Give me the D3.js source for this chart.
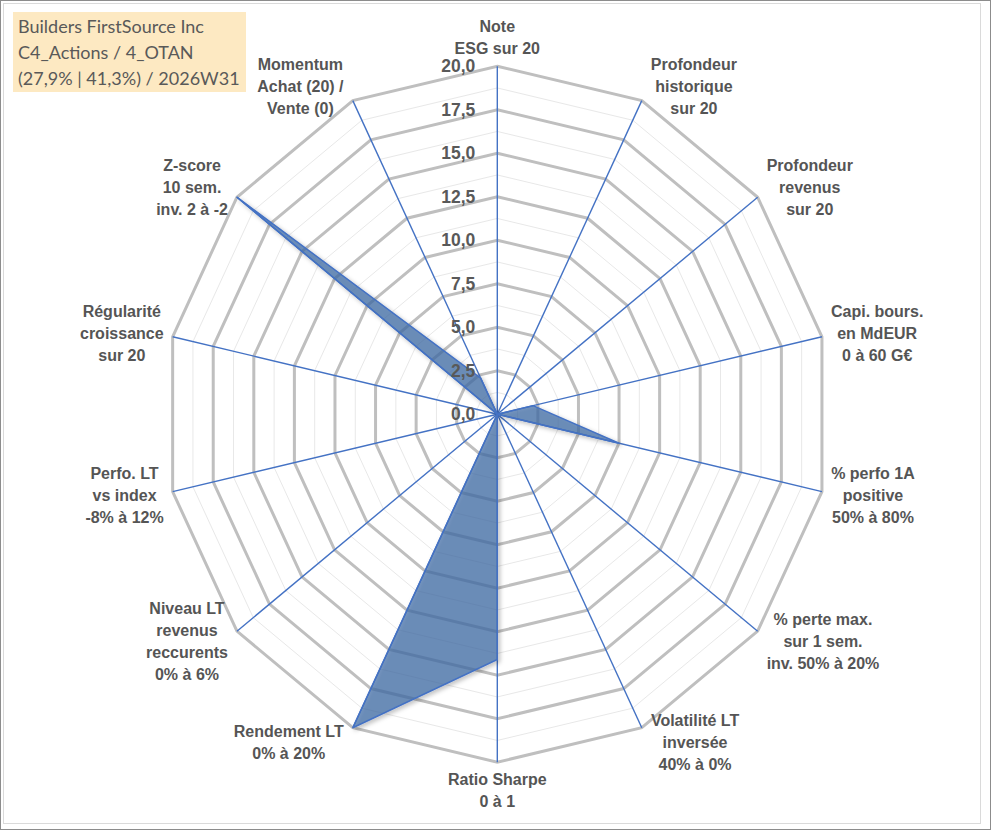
<!DOCTYPE html>
<html>
<head>
<meta charset="utf-8">
<script src="https://cdn.jsdelivr.net/npm/d3@7"></script>
<style>
  body { margin: 0; background: #fff; }
  svg { display: block; }
</style>
</head>
<body>
<svg id="chart" width="991" height="830"></svg>
<script>
// axes, clockwise from the top
const axisLabels = [
  ['Note', 'ESG sur 20'],
  ['Profondeur', 'historique', 'sur 20'],
  ['Profondeur', 'revenus', 'sur 20'],
  ['Capi. bours.', 'en MdEUR', '0 à 60 G€'],
  ['% perfo 1A', 'positive', '50% à 80%'],
  ['% perte max.', 'sur 1 sem.', 'inv. 50% à 20%'],
  ['Volatilité LT', 'inversée', '40% à 0%'],
  ['Ratio Sharpe', '0 à 1'],
  ['Rendement LT', '0% à 20%'],
  ['Niveau LT', 'revenus', 'reccurents', '0% à 6%'],
  ['Perfo. LT', 'vs index', '-8% à 12%'],
  ['Régularité', 'croissance', 'sur 20'],
  ['Z-score', '10 sem.', 'inv. 2 à -2'],
  ['Momentum', 'Achat (20) /', 'Vente (0)']
];
const scores = [0, 0, 0, 2.2, 7.5, 0, 0, 14.1, 20, 0, 0, 0, 20, 2.3];
const majorTicks = d3.range(0, 20.01, 2.5);
const minorTicks = d3.range(1.25, 20, 2.5);
const titleLines = ['Builders FirstSource Inc', 'C4_Actions / 4_OTAN', '(27,9% | 41,3%) / 2026W31'];

const svg = d3.select('#chart');
const cx = 497.3, cy = 414.2;
const n = axisLabels.length;

// the picture is slightly squeezed horizontally
const rx = d3.scaleLinear().domain([0, 20]).range([0, 333]);
const ry = d3.scaleLinear().domain([0, 20]).range([0, 348]);
const angle = d3.scaleLinear().domain([0, n]).range([0, 2 * Math.PI]);

const pt = (i, v) => [cx + rx(v) * Math.sin(angle(i)), cy - ry(v) * Math.cos(angle(i))];

const fr = d3.formatLocale({ decimal: ',', thousands: ' ', grouping: [3], currency: ['', '€'] });
const fmt = fr.format('.1f');

// frame
svg.append('rect')
  .attr('x', 0.5).attr('y', 0.5).attr('width', 990).attr('height', 829)
  .attr('fill', '#fff').attr('stroke', '#8c8c8c');
svg.append('rect')
  .attr('x', 3.5).attr('y', 3.5).attr('width', 977).attr('height', 820)
  .attr('fill', 'none').attr('stroke', '#dadada');

const defs = svg.append('defs');
defs.append('filter').attr('id', 'shadow')
  .attr('x', '-20%').attr('y', '-20%').attr('width', '140%').attr('height', '140%')
  .append('feDropShadow')
  .attr('dx', 2).attr('dy', 2).attr('stdDeviation', 2)
  .attr('flood-color', '#000').attr('flood-opacity', 0.3);

const ring = v => d3.line().curve(d3.curveLinearClosed)(d3.range(n).map(i => pt(i, v)));

const grid = svg.append('g');
grid.selectAll('path.minor')
  .data(minorTicks)
  .join('path')
  .attr('class', 'minor')
  .attr('d', ring)
  .attr('fill', 'none')
  .attr('stroke', '#e8e8e8')
  .attr('stroke-width', 1);

grid.selectAll('path.major')
  .data(majorTicks.filter(v => v > 0))
  .join('path')
  .attr('class', 'major')
  .attr('d', ring)
  .attr('fill', 'none')
  .attr('stroke', '#bfbfbf')
  .attr('stroke-width', 3)
  .attr('stroke-linejoin', 'miter');

// spokes
svg.append('g').selectAll('line')
  .data(d3.range(n))
  .join('line')
  .attr('x1', cx).attr('y1', cy)
  .attr('x2', i => pt(i, 20)[0])
  .attr('y2', i => pt(i, 20)[1])
  .attr('stroke', '#4472c4')
  .attr('stroke-width', 1.4);

// series
svg.append('path')
  .datum(scores)
  .attr('d', d3.line().curve(d3.curveLinearClosed)(scores.map((v, i) => pt(i, v))))
  .attr('fill', '#3f6ca6')
  .attr('fill-opacity', 0.7)
  .attr('stroke', '#4472c4')
  .attr('stroke-width', 1.5)
  .attr('stroke-linejoin', 'round')
  .attr('filter', 'url(#shadow)');

// tick labels along the top axis
svg.append('g').selectAll('text')
  .data(majorTicks)
  .join('text')
  .attr('x', cx - 22)
  .attr('y', v => cy - ry(v))
  .attr('dy', '0.35em')
  .attr('text-anchor', 'end')
  .attr('font-family', 'Liberation Sans, Arial, sans-serif')
  .attr('font-weight', 'bold')
  .attr('font-size', 17.5)
  .attr('fill', '#595959')
  .text(fmt);

// axis labels, boxed next to each outer vertex
const lineH = 22;
const labels = svg.append('g')
  .attr('font-family', 'Liberation Sans, Arial, sans-serif')
  .attr('font-weight', 'bold')
  .attr('font-size', 16)
  .attr('fill', '#555555');

axisLabels.forEach((lines, i) => {
  const [vx, vy] = pt(i, 20);
  const s = Math.sin(angle(i)), c = Math.cos(angle(i));
  const g = labels.append('g');
  const t = g.append('text').attr('text-anchor', 'middle');
  lines.forEach((l, k) => {
    t.append('tspan')
      .attr('x', 0)
      .attr('y', (k - (lines.length - 1) / 2) * lineH)
      .attr('dy', '0.35em')
      .text(l);
  });
  const w = t.node().getBBox().width;
  const h = lines.length * lineH;
  let x, y;
  if (Math.abs(s) < 0.1) {
    x = vx;
    y = c > 0 ? vy - h / 2 - 7 : vy + h / 2 + 6;
  } else {
    x = s > 0 ? vx + 9 + w / 2 : vx - 9 - w / 2;
    y = vy - 16 * c;
  }
  g.attr('transform', `translate(${x},${y})`);
});

// title box
const title = svg.append('g');
title.append('rect')
  .attr('x', 13).attr('y', 12).attr('width', 233).attr('height', 80)
  .attr('fill', '#fde9c2');
title.append('text')
  .attr('font-family', 'Lato, Carlito, sans-serif')
  .attr('font-size', 18)
  .attr('fill', '#595959')
  .selectAll('tspan')
  .data(titleLines)
  .join('tspan')
  .attr('x', 18)
  .attr('y', (d, k) => 27 + k * 26)
  .attr('dy', '0.35em')
  .text(d => d);
</script>
</body>
</html>
